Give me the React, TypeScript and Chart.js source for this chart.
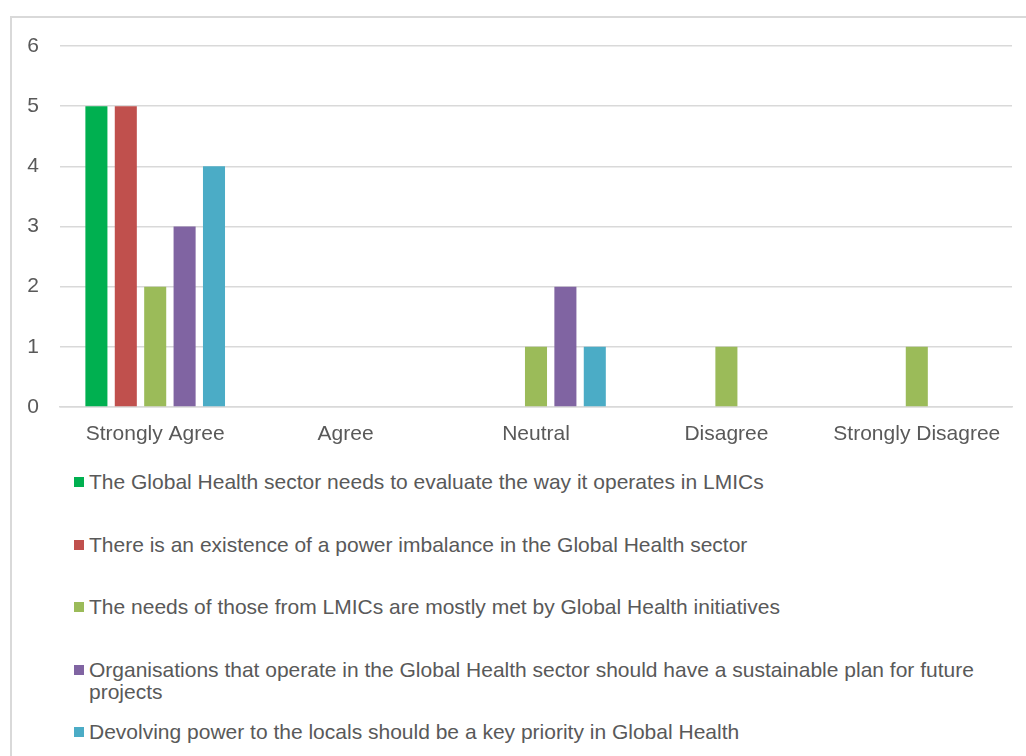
import React, { useEffect, useRef } from "react";
import { Chart, registerables } from "chart.js";

Chart.register(...registerables);

// Survey response categories
const categories = ["Strongly Agree", "Agree", "Neutral", "Disagree", "Strongly Disagree"];

// Statements (one series each)
const statementLabels = [
  "The Global Health sector needs to evaluate the way it operates in LMICs",
  "There is an existence of a power imbalance in the Global Health sector",
  "The needs of those from LMICs are mostly met by Global Health initiatives",
  "Organisations that operate in the Global Health sector should have a sustainable plan for future projects",
  "Devolving power to the locals should be a key priority in Global Health",
];

// Response counts per category
const evaluateWay = [5, 0, 0, 0, 0];
const powerImbalance = [5, 0, 0, 0, 0];
const needsMet = [2, 0, 1, 1, 1];
const sustainablePlan = [3, 0, 2, 0, 0];
const devolvingPower = [4, 0, 1, 0, 0];

const yTicks = [0, 1, 2, 3, 4, 5, 6];

const seriesColors = ["#00B050", "#C0504D", "#9BBB59", "#8064A2", "#4BACC6"];
const seriesValues = [evaluateWay, powerImbalance, needsMet, sustainablePlan, devolvingPower];

const FONT = "'Liberation Sans', Arial, sans-serif";
const FONT_SIZE = 21;
const TEXT = "#595959";
const GRID = "#D9D9D9";

// Legend text box width; longer entries wrap onto a second line
const LEGEND_TEXT_WIDTH = 912;

export default function App() {
  const canvasRef = useRef<HTMLCanvasElement | null>(null);

  useEffect(() => {
    if (!canvasRef.current) return;
    const chart = new Chart(canvasRef.current, {
      type: "bar",
      data: {
        labels: categories,
        datasets: seriesValues.map((vals, i) => ({
          label: statementLabels[i],
          data: vals,
          backgroundColor: seriesColors[i],
          borderWidth: 0,
          categoryPercentage: 0.772,
          barPercentage: 0.75,
        })),
      },
      options: {
        animation: false,
        responsive: false,
        maintainAspectRatio: false,
        layout: { padding: { left: 0, right: 14, top: 46, bottom: 0 } },
        plugins: {
          legend: { display: false },
          tooltip: { enabled: false },
        },
        scales: {
          x: {
            grid: { display: false, drawTicks: false },
            border: { display: true, color: GRID, width: 1.5 },
            ticks: {
              color: TEXT,
              font: { family: FONT, size: FONT_SIZE },
              padding: 15,
              maxRotation: 0,
              autoSkip: false,
            },
            afterFit: (scale: any) => {
              scale.height = 63;
            },
          },
          y: {
            min: 0,
            max: 6,
            afterBuildTicks: (scale: any) => {
              scale.ticks = yTicks.map((v) => ({ value: v }));
            },
            grid: { color: GRID, lineWidth: 1.5, drawTicks: false },
            border: { display: false },
            ticks: {
              color: TEXT,
              font: { family: FONT, size: FONT_SIZE },
              padding: 21,
            },
            afterFit: (scale: any) => {
              scale.width = 60;
            },
          },
        },
      },
    });
    return () => chart.destroy();
  }, []);

  return (
    <div
      style={{
        position: "absolute",
        left: 0,
        top: 0,
        width: 1026,
        height: 756,
        overflow: "hidden",
        background: "#fff",
        fontFamily: FONT,
      }}
    >
      <div
        style={{
          position: "absolute",
          left: 10,
          top: 16,
          width: 1040,
          height: 780,
          border: `2px solid ${GRID}`,
          boxSizing: "border-box",
        }}
      />
      <canvas
        ref={canvasRef}
        width={1026}
        height={470}
        style={{ position: "absolute", left: 0, top: 0, width: 1026, height: 470 }}
      />
      {statementLabels.map((label, i) => (
        <div
          key={label}
          style={{
            position: "absolute",
            left: 74,
            top: 471 + i * 62.5,
            display: "flex",
            alignItems: "flex-start",
          }}
        >
          <span
            style={{
              display: "inline-block",
              width: 10,
              height: 10,
              marginTop: 6,
              marginRight: 5,
              background: seriesColors[i],
              flex: "none",
            }}
          />
          <span
            style={{
              display: "inline-block",
              width: LEGEND_TEXT_WIDTH,
              fontSize: FONT_SIZE,
              lineHeight: "22px",
              color: TEXT,
            }}
          >
            {label}
          </span>
        </div>
      ))}
    </div>
  );
}
